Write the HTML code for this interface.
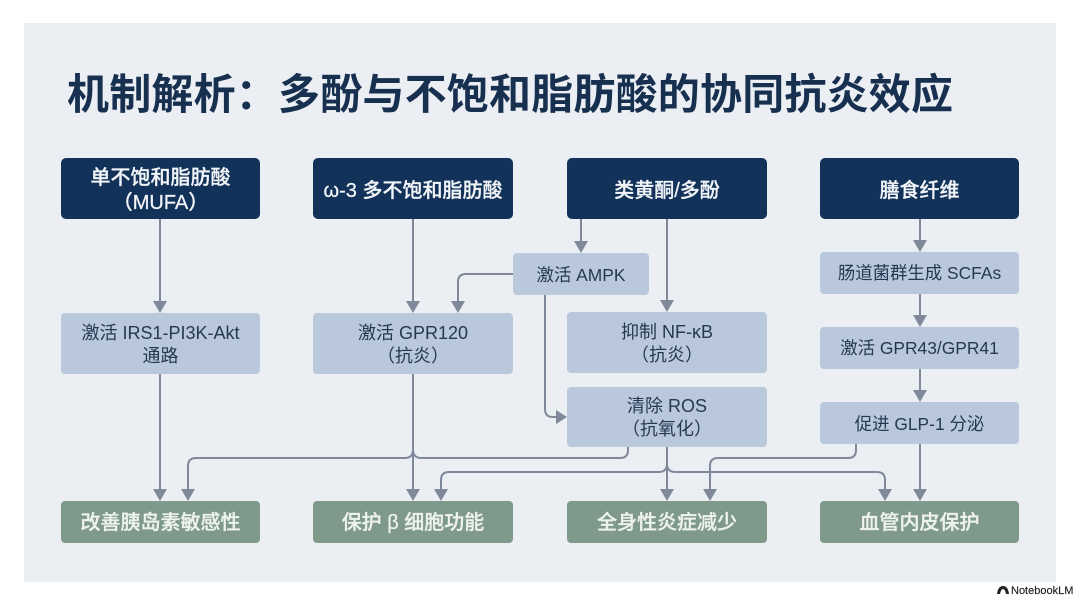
<!DOCTYPE html>
<html lang="zh">
<head>
<meta charset="utf-8">
<style>
html,body{margin:0;padding:0;background:#fff;width:1080px;height:602px;overflow:hidden}
svg{display:block}
text{font-family:"Liberation Sans","Noto Sans CJK SC",sans-serif;text-anchor:middle}
.d{fill:#12325a}.l{fill:#b9c8da}.g{fill:#7f9a8b}
.dt{fill:#f2f5f8;stroke:#f2f5f8;stroke-width:.25px;font-size:20px;font-weight:500}
.lt{fill:#253a52;font-size:18px}
.s{font-size:17.4px}
.gt{fill:#eef2ef;stroke:#eef2ef;stroke-width:.3px;font-size:20px;font-weight:500}
.c{fill:none;stroke:#7f8999;stroke-width:2}
.a{fill:#7f8999}
</style>
</head>
<body>
<svg width="1080" height="602" viewBox="0 0 1080 602" xmlns="http://www.w3.org/2000/svg">
<rect width="1080" height="602" fill="#fff"/>
<rect x="24" y="23" width="1032" height="559" fill="#ebeff4"/>
<text x="67" y="109" style="text-anchor:start;font-size:42px;font-weight:700;fill:#17304f;letter-spacing:.2px">机制解析：多酚与不饱和脂肪酸的协同抗炎效应</text>

<!-- connectors -->
<path class="c" d="M160 219V302M160 374V490M413 219V302M413 374V490M581 219V242M667 219V301M667 447V490M920 219V241M920 294V316M920 369V391M920 444V490"/>
<path class="c" d="M513 274H466Q458 274 458 282V302"/>
<path class="c" d="M545 295V409Q545 417 553 417H557"/>
<path class="c" d="M628 447V450Q628 458 620 458H421Q414 458 413 451Q412 458 405 458H196Q188 458 188 466V490"/>
<path class="c" d="M441 490V480Q441 472 449 472H659Q666 472 667 465Q668 472 675 472H877Q885 472 885 480V490"/>
<path class="c" d="M856 444V450Q856 458 848 458H718Q710 458 710 466V490"/>

<!-- arrowheads -->
<path class="a" d="M153 301H167L160 313ZM181 489H195L188 501ZM153 489H167L160 501ZM406 301H420L413 313ZM451 301H465L458 313ZM406 489H420L413 501ZM434 489H448L441 501ZM574 241H588L581 253ZM660 300H674L667 312ZM660 489H674L667 501ZM703 489H717L710 501ZM878 489H892L885 501ZM913 240H927L920 252ZM913 315H927L920 327ZM913 390H927L920 402ZM913 489H927L920 501ZM556 410V424L567 417Z"/>

<!-- top nodes -->
<rect class="d" x="61" y="158" width="199" height="61" rx="5"/>
<rect class="d" x="313" y="158" width="200" height="61" rx="5"/>
<rect class="d" x="567" y="158" width="200" height="61" rx="5"/>
<rect class="d" x="820" y="158" width="199" height="61" rx="5"/>
<text class="dt" x="160.500" y="184">单不饱和脂肪酸</text>
<text class="dt" x="160.500" y="209">（MUFA）</text>
<text class="dt" x="413" y="197">ω-3 多不饱和脂肪酸</text>
<text class="dt" x="667" y="197">类黄酮/多酚</text>
<text class="dt" x="919.500" y="197">膳食纤维</text>

<!-- middle nodes -->
<rect class="l" x="513" y="253" width="136" height="42" rx="4"/>
<rect class="l" x="61" y="313" width="199" height="61" rx="4"/>
<rect class="l" x="313" y="313" width="200" height="61" rx="4"/>
<rect class="l" x="567" y="312" width="200" height="61" rx="4"/>
<rect class="l" x="567" y="387" width="200" height="60" rx="4"/>
<rect class="l" x="820" y="252" width="199" height="42" rx="4"/>
<rect class="l" x="820" y="327" width="199" height="42" rx="4"/>
<rect class="l" x="820" y="402" width="199" height="42" rx="4"/>
<text class="lt s" x="581" y="281">激活 AMPK</text>
<text class="lt" x="160.500" y="339">激活 IRS1-PI3K-Akt</text>
<text class="lt" x="160.500" y="362">通路</text>
<text class="lt" x="413" y="339">激活 GPR120</text>
<text class="lt" x="413" y="362">（抗炎）</text>
<text class="lt" x="667" y="338">抑制 NF-κB</text>
<text class="lt" x="667" y="361">（抗炎）</text>
<text class="lt" x="667" y="412">清除 ROS</text>
<text class="lt" x="667" y="435">（抗氧化）</text>
<text class="lt s" x="919.500" y="279">肠道菌群生成 SCFAs</text>
<text class="lt s" x="919.500" y="354">激活 GPR43/GPR41</text>
<text class="lt s" x="919.500" y="430">促进 GLP-1 分泌</text>

<!-- bottom nodes -->
<rect class="g" x="61" y="501" width="199" height="42" rx="4"/>
<rect class="g" x="313" y="501" width="200" height="42" rx="4"/>
<rect class="g" x="567" y="501" width="200" height="42" rx="4"/>
<rect class="g" x="820" y="501" width="199" height="42" rx="4"/>
<text class="gt" x="160.500" y="529">改善胰岛素敏感性</text>
<text class="gt" x="413" y="529">保护 β 细胞功能</text>
<text class="gt" x="667" y="529">全身性炎症减少</text>
<text class="gt" x="919.500" y="529">血管内皮保护</text>

<!-- watermark -->
<path d="M997 594Q998 586 1003 586Q1008 586 1009 594H1006Q1005 589 1003 589Q1001 589 1000 594Z" fill="#222"/>
<text x="1011" y="594" style="text-anchor:start;font-size:11px;fill:#222;stroke:#222;stroke-width:.15px">NotebookLM</text>
</svg>
</body>
</html>
